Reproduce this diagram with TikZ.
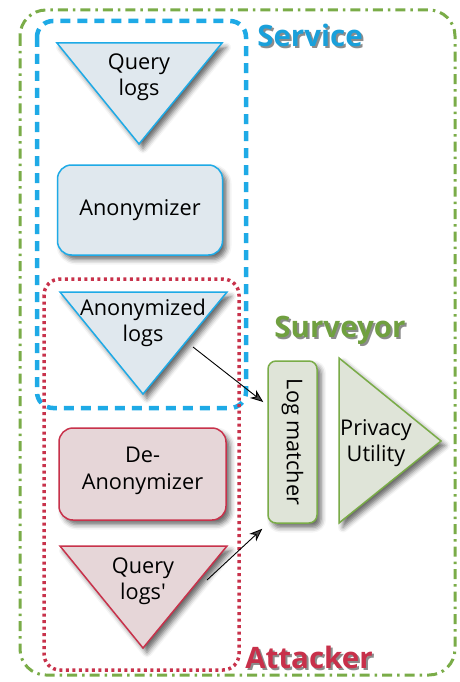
\documentclass[tikz,border=0pt]{standalone}
\usepackage{fontspec}
\setmainfont{Open Sans}[Ligatures=TeXOff]
\usetikzlibrary{shadows.blur,arrows.meta,calc}
\definecolor{sblue}{RGB}{30,170,230}
\definecolor{fblue}{RGB}{224,232,238}
\definecolor{sred}{RGB}{200,50,75}
\definecolor{fred}{RGB}{230,214,216}
\definecolor{sgreen}{RGB}{122,172,72}
\definecolor{fgreen}{RGB}{223,228,216}
\definecolor{lblue}{RGB}{26,160,218}
\definecolor{lred}{RGB}{200,48,74}
\definecolor{lgreen}{RGB}{112,160,64}
\begin{document}
\begin{tikzpicture}[x=1pt,y=-1pt,
  shad/.style={blur shadow={shadow xshift=4pt,shadow yshift=-4.5pt,shadow blur radius=5pt,shadow opacity=60}},
  txt/.style={font=\fontsize{21.7}{26.5}\selectfont,align=center,inner sep=0pt},
  lbl/.style={font=\fontsize{29.5}{32}\selectfont\bfseries,inner sep=0pt},
  lblsh/.style={lbl,text=black,opacity=0.45},
  bluebox/.style={draw=sblue,fill=fblue,line width=1.5pt,rounded corners=14pt,shad},
  redbox/.style={draw=sred,fill=fred,line width=1.5pt,rounded corners=14pt,shad},
  greenbox/.style={draw=sgreen,fill=fgreen,line width=1.5pt,rounded corners=8pt,shad},
  arr/.style={-{Stealth[length=13pt,width=10pt,inset=4pt]},line width=0.9pt},
]
\useasboundingbox (0,0) rectangle (460,682);
% outer groups
\draw[sgreen,line width=3pt,rounded corners=26pt,dash pattern=on 10pt off 5pt on 2.5pt off 5pt] (20,10) rectangle (455,675);
\draw[sblue,line width=4.5pt,rounded corners=16pt,dash pattern=on 10pt off 7pt] (37,21) rectangle (246,408);
\draw[sred,line width=3.5pt,rounded corners=16pt,dash pattern=on 3pt off 3.5pt] (44,279) rectangle (239,670);
% Query logs
\path[bluebox,rounded corners=0pt] (57,43) coordinate (ql-a) -- (222,43) coordinate (ql-b) -- (139,144) coordinate (ql-c) -- cycle;
\node[txt] (ql) at (139,77) {Query\\logs};
% Anonymizer
\node[bluebox,minimum width=165pt,minimum height=90pt] (anon) at (140,210) {};
\node[txt] (anon-t) at (anon.center) {Anonymizer};
% Anonymized logs
\path[bluebox,rounded corners=0pt] (60,292) coordinate (al-a) -- (227,292) coordinate (al-b) -- (143,394) coordinate (al-c) -- cycle;
\node[txt] (al) at (143,323) {Anonymized\\logs};
% De-Anonymizer
\node[redbox,minimum width=167pt,minimum height=92pt] (deanon) at (142.5,474) {};
\node[txt] (deanon-t) at (142.5,471) {De-\\Anonymizer};
% Query logs'
\path[redbox,rounded corners=0pt] (60,546) coordinate (qp-a) -- (227,546) coordinate (qp-b) -- (143,648) coordinate (qp-c) -- cycle;
\node[txt] (qp) at (143,581) {Query\\logs'};
% Log matcher
\node[greenbox,minimum width=49pt,minimum height=162pt] (lm) at (292.5,442) {};
\node[txt] (lm-t) at (lm.center) {\rotatebox{-90}{Log matcher}};
% Privacy Utility
\path[greenbox,rounded corners=0pt] (339,358) coordinate (pu-a) -- (441,441) coordinate (pu-b) -- (339,523) coordinate (pu-c) -- cycle;
\node[txt] (pu) at (376,443) {Privacy\\Utility};
% labels
\node[lblsh] (svc-sh) at (312,37) {Service};
\node[lbl,text=lblue] (svc) at (310,35) {Service};
\node[lblsh] (sur-sh) at (342,332) {Surveyor};
\node[lbl,text=lgreen] (sur) at (340,330) {Surveyor};
\node[lblsh] (att-sh) at (311,659) {Attacker};
\node[lbl,text=lred] (att) at (309,657) {Attacker};
% arrows
\coordinate (al-out) at (193,347);
\coordinate (qp-out) at (207,580);
\draw[arr] (al-out) -- ($(lm.west)+(-4,-40)$);
\draw[arr] (qp-out) -- ($(lm.south west)+(-5,5)$);
\end{tikzpicture}
\end{document}
